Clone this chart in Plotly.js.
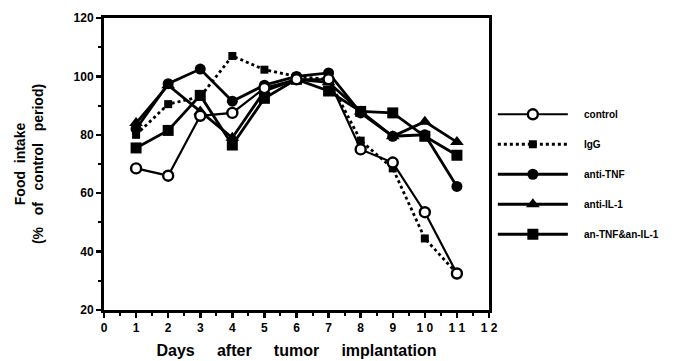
<!DOCTYPE html>
<html>
<head>
<meta charset="utf-8">
<script src="https://cdn.plot.ly/plotly-3.0.1.min.js"></script>
<style>html,body{margin:0;padding:0;background:#fff;}#chart{width:676px;height:361px;}</style>
</head>
<body>
<div id="chart"></div>
<script>
var days = [1, 2, 3, 4, 5, 6, 7, 8, 9, 10, 11];
var control = [68.5, 66, 86.5, 87.5, 96, 99, 99, 75, 70.5, 53.5, 32.5];
var igg = [80, 90.5, 93, 107, 102.3, 100, 99, 78, 68.5, 44.5, 32.5];
var antiTNF = [82, 97.5, 102.5, 91.5, 97, 100, 101.2, 87.5, 79.5, 80, 62.3];
var antiIL1 = [84, 97, 88, 79, 95, 99, 98, 88, 79.5, 84.5, 77.5];
var anBoth = [75.5, 81.5, 93.5, 76.5, 92.5, 99, 95, 88, 87.5, 79.5, 73];
var seriesNames = ['control', 'IgG', 'anti-TNF', 'anti-IL-1', 'an-TNF&an-IL-1'];
var xTickVals = [0,1,2,3,4,5,6,7,8,9,10,11,12];
var xTickText = ['0','1','2','3','4','5','6','7','8','9','1 0','1 1','1 2'];
var yTickVals = [20, 40, 60, 80, 100, 120];

var F = 'Liberation Sans, Arial, sans-serif';
var pad = '\u00a0\u00a0\u00a0\u00a0';
function tr(y, i, line, marker) {
  return {x: days, y: y, name: pad + seriesNames[i], mode: 'lines+markers', type: 'scatter',
          legendgroup: 'g' + i, legendrank: i + 1, line: line, marker: marker, cliponaxis: false};
}
var data = [
  tr(anBoth, 4, {color: '#000', width: 2.8}, {symbol: 'square', size: 11, color: '#000'}),
  tr(antiIL1, 3, {color: '#000', width: 2.8}, {symbol: 'triangle-up', size: 12, color: '#000'}),
  tr(antiTNF, 2, {color: '#000', width: 2.8}, {symbol: 'circle', size: 11, color: '#000'}),
  tr(igg, 1, {color: '#000', width: 2.8, dash: 'dot'}, {symbol: 'square', size: 8, color: '#000'}),
  tr(control, 0, {color: '#000', width: 2.2}, {symbol: 'circle', size: 10, color: '#fff', line: {color: '#000', width: 2.4}})
];
var layout = {
  width: 676, height: 361,
  margin: {l: 104, r: 182, t: 18, b: 51},
  paper_bgcolor: '#fff', plot_bgcolor: '#fff',
  font: {family: F, color: '#000', size: 11, weight: 'bold'},
  showlegend: true,
  legend: {x: 1.01, xanchor: 'left', y: 0.72, yanchor: 'top', traceorder: 'grouped',
           tracegroupgap: 11, itemwidth: 70, font: {family: F, size: 10, weight: 'bold', color: '#000'},
           bgcolor: 'rgba(0,0,0,0)'},
  xaxis: {range: [0, 12], tickmode: 'array', tickvals: xTickVals, ticktext: xTickText,
          ticks: 'outside', ticklen: 5, tickwidth: 2.5, tickcolor: '#000',
          minor: {dtick: 0.5, ticks: 'outside', ticklen: 3, tickwidth: 2, tickcolor: '#000'},
          showline: true, linewidth: 3, linecolor: '#000', mirror: true, showgrid: false, zeroline: false,
          tickfont: {family: F, size: 12, weight: 'bold', color: '#000'},
          title: {text: 'Days\u00a0\u00a0\u00a0\u00a0\u00a0after\u00a0\u00a0\u00a0\u00a0\u00a0tumor\u00a0\u00a0\u00a0\u00a0\u00a0implantation', standoff: 11,
                  font: {family: F, size: 16, weight: 'bold', color: '#000'}}},
  yaxis: {range: [20, 120], tickmode: 'array', tickvals: yTickVals,
          ticks: 'outside', ticklen: 5, tickwidth: 2.5, tickcolor: '#000',
          minor: {dtick: 10, ticks: 'outside', ticklen: 3, tickwidth: 2, tickcolor: '#000'},
          showline: true, linewidth: 3, linecolor: '#000', mirror: true, showgrid: false, zeroline: false,
          tickfont: {family: F, size: 12, weight: 'bold', color: '#000'},
          title: {text: 'Food\u00a0\u00a0intake<br>(%\u00a0\u00a0\u00a0of\u00a0\u00a0\u00a0control\u00a0\u00a0\u00a0period)', standoff: 27,
                  font: {family: F, size: 14, weight: 'bold', color: '#000'}}}
};
Plotly.newPlot('chart', data, layout, {displayModeBar: false, staticPlot: true});
</script>
</body>
</html>
